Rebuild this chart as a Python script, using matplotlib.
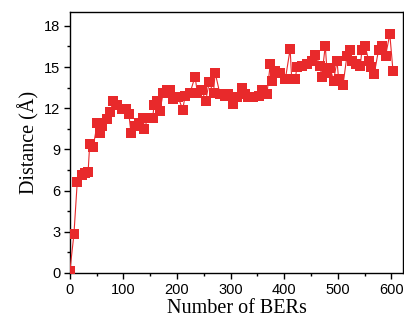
import numpy as np
import matplotlib
matplotlib.use("Agg")
import matplotlib.pyplot as plt
from matplotlib.ticker import MultipleLocator

# ── Distance vs number of BERs ──────────────────────────────
n_bers = [0, 7.5, 13.7, 22, 28, 34, 37, 43.6, 51, 56, 59, 68.5, 75, 81, 88,
          96.5, 104, 110, 114, 121.5, 129, 137, 138.5, 146, 154.5, 157, 162,
          168, 174, 181, 187, 193, 202, 210.6, 215, 224, 233.6, 238, 246,
          253.6, 260, 268, 271, 280, 286, 290, 295, 305, 311.5, 321, 327,
          333, 342.6, 352, 358, 367.6, 374, 377, 383, 392.5, 402, 411, 414,
          420.5, 423.7, 433, 442, 451.6, 458, 467, 470, 476.6, 480, 486, 492,
          498.5, 501.5, 509.7, 517, 523, 526.5, 533, 542, 545, 551, 557.6,
          561, 568, 576, 582.6, 589, 597, 603]
distance = [0.15, 2.8, 6.6, 7.1, 7.25, 7.35, 9.4, 9.2, 10.9, 10.2, 10.7,
            11.2, 11.7, 12.55, 12.2, 11.95, 11.95, 11.6, 10.2, 10.7, 10.9,
            11.3, 10.5, 11.3, 11.3, 12.2, 12.55, 11.8, 13.1, 13.3, 13.3, 12.7,
            12.8, 11.9, 12.9, 13.1, 14.3, 13.1, 13.3, 12.55, 13.9, 13.1, 14.6,
            13.05, 13.05, 12.9, 13.05, 12.3, 12.8, 13.5, 13.05, 12.8, 12.8,
            12.9, 13.3, 13.0, 15.25, 14.0, 14.7, 14.6, 14.1, 16.3, 14.1, 14.1,
            15.0, 15.1, 15.25, 15.45, 15.9, 15.1, 14.3, 16.55, 14.6, 14.9,
            14.0, 15.45, 14.1, 13.7, 15.8, 16.25, 15.45, 15.2, 15.1, 16.25,
            16.55, 15.45, 15.0, 14.5, 16.25, 16.55, 15.8, 17.4, 14.7]

RED = "#e8292b"

fig = plt.figure(figsize=(4.04, 3.28), dpi=100)
ax = fig.add_axes([0.173, 0.168, 0.825, 0.795])

ax.plot(n_bers, distance, color=RED, linewidth=0.8, marker="s",
        markersize=7.6, markeredgewidth=0, zorder=3)

ax.set_xlim(0, 622)
ax.set_ylim(0, 19)
ax.xaxis.set_major_locator(MultipleLocator(100))
ax.xaxis.set_minor_locator(MultipleLocator(50))
ax.yaxis.set_major_locator(MultipleLocator(3))
ax.yaxis.set_minor_locator(MultipleLocator(1.5))

ax.tick_params(which="both", direction="out", top=False, right=False,
               width=1.0, labelsize=10.5, pad=2.5)
ax.tick_params(which="major", length=4.5)
ax.tick_params(which="minor", length=2.5)
for lbl in ax.get_xticklabels() + ax.get_yticklabels():
    lbl.set_family("Liberation Sans")
for s in ax.spines.values():
    s.set_linewidth(1.0)

ax.set_xlabel("Number of BERs", family="Liberation Serif", fontsize=14.5,
              labelpad=2)
ax.set_ylabel("Distance (Å)", family="Liberation Serif", fontsize=14.5,
              labelpad=3)

fig.savefig("out.png", dpi=100)
